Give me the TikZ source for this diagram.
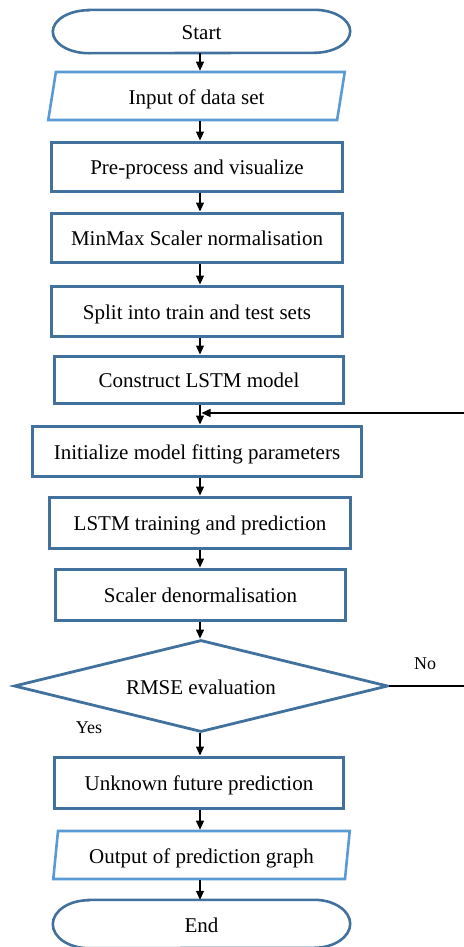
\documentclass[tikz,border=0pt]{standalone}
\usepackage{fontspec}
\setmainfont{Liberation Serif}
\usetikzlibrary{arrows.meta,shapes.geometric}
\definecolor{boxblue}{HTML}{41719C}
\definecolor{iolight}{HTML}{5B9BD5}
\newcommand{\terminatorpath}[3]{% node name, end x radius, end y radius
  \draw[draw=boxblue, line width=2.6bp]
    ([xshift=#2]#1.north west) -- ([xshift=-#2]#1.north east)
    arc[start angle=90, end angle=-90, x radius=#2, y radius=#3]
    -- ([xshift=#2]#1.south west)
    arc[start angle=270, end angle=90, x radius=#2, y radius=#3] -- cycle;}
\begin{document}
\begin{tikzpicture}[x=1bp,y=-1bp,
  every node/.style={font=\fontsize{21bp}{24bp}\selectfont, inner sep=0pt},
  steptext/.style={text height=16bp, text depth=0bp},
  procbox/.style={steptext, draw=boxblue, line width=3bp, fill=white, rectangle},
  terminal/.style={steptext, rectangle, minimum width=297bp},
  iobox/.style={steptext, draw=iolight, line width=2.6bp, fill=white, trapezium,
                trapezium left angle=77, trapezium right angle=103,
                trapezium stretches=true, minimum width=297bp, minimum height=48bp},
  decision/.style={steptext, draw=boxblue, line width=2.8bp, fill=white, diamond,
                   aspect=4.07, minimum width=374bp, minimum height=92bp},
  flow/.style={line width=1.2bp, -{Triangle[length=9bp,width=8bp]}},
  lbl/.style={font=\fontsize{18bp}{21bp}\selectfont}
]
\useasboundingbox (0,0) rectangle (464,947);
\clip (0,0) rectangle (464,947);

% main column of steps
\node[terminal, minimum height=43bp] (start) at (201.5,31.5) {Start};
\node[iobox] (input) at (196.5,96) {Input of data set};
\node[procbox, minimum width=290bp, minimum height=49bp] (prep) at (197,166.5) {Pre-process and visualize};
\node[procbox, minimum width=290bp, minimum height=49bp] (norm) at (197,237.5) {MinMax Scaler normalisation};
\node[procbox, minimum width=290bp, minimum height=50bp] (split) at (197,311) {Split into train and test sets};
\node[procbox, minimum width=288bp, minimum height=47bp] (build) at (199,379.5) {Construct LSTM model};
\node[procbox, minimum width=328bp, minimum height=50bp] (init) at (197,451) {Initialize model fitting parameters};
\node[procbox, minimum width=300bp, minimum height=51bp] (train) at (200,522.5) {LSTM training and prediction};
\node[procbox, minimum width=289bp, minimum height=51bp] (denorm) at (200.5,594.5) {Scaler denormalisation};
\node[decision] (rmse) at (201,686) {RMSE evaluation};
\node[procbox, minimum width=288bp, minimum height=51bp] (future) at (199,782.5) {Unknown future prediction};
\node[iobox] (output) at (201.5,855) {Output of prediction graph};
\node[terminal, minimum height=48bp] (stop) at (201.5,924) {End};

% terminator outlines with elliptical ends
\terminatorpath{start}{36bp}{21.5bp}
\terminatorpath{stop}{36bp}{24bp}

% branch labels
\node[lbl] (no) at (425,664) {No};
\node[lbl] (yes) at (89,728) {Yes};

% connectors
\coordinate (merge) at (200,413);
\coordinate (loopout) at (472,686);

\draw[flow] (start.south -| 200,0) -- (input.north -| 200,0);
\draw[flow] (input.south -| 200,0) -- (prep.north -| 200,0);
\draw[flow] (prep.south -| 200,0) -- (norm.north -| 200,0);
\draw[flow] (norm.south -| 200,0) -- (split.north -| 200,0);
\draw[flow] (split.south -| 200,0) -- (build.north -| 200,0);
\draw[flow] (build.south -| 200,0) -- (init.north -| 200,0);
\draw[flow] (init.south -| 200,0) -- (train.north -| 200,0);
\draw[flow] (train.south -| 200,0) -- (denorm.north -| 200,0);
\draw[flow] (denorm.south -| 200,0) -- (rmse.north -| 200,0);
\draw[flow] (rmse.south -| 200,0) -- (future.north -| 200,0);
\draw[flow] (future.south -| 200,0) -- (output.north -| 200,0);
\draw[flow] (output.south -| 200,0) -- (stop.north -| 200,0);

% feedback loop when the error is not acceptable
\draw[flow, shorten >=1.5bp] (rmse.east) -- (loopout) |- (merge);
\end{tikzpicture}
\end{document}
